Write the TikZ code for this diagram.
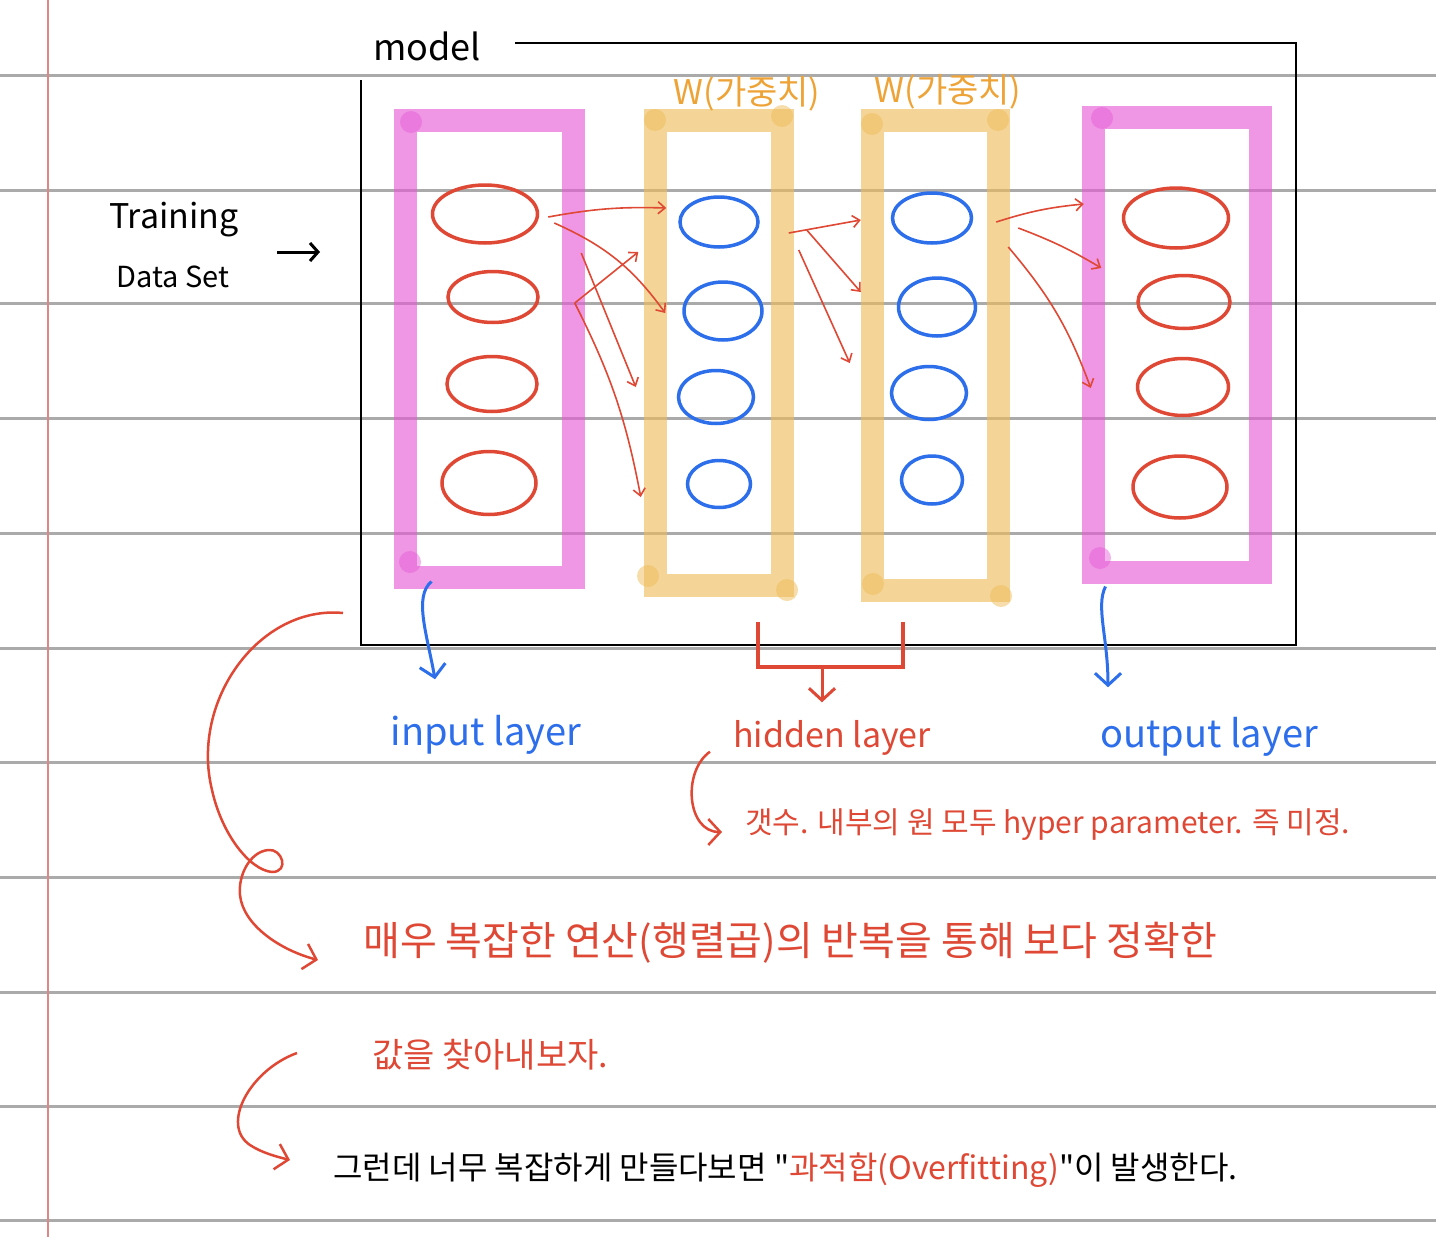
\documentclass[tikz,border=0pt]{standalone}
\usepackage{fontspec}
\usepackage{xcolor}
\usepackage{tikz}
\usetikzlibrary{arrows.meta, positioning, shapes.geometric}
\newfontfamily\kr{Noto Sans CJK KR}
\definecolor{pen}{RGB}{222,72,52}
\definecolor{ink}{RGB}{45,110,235}
\definecolor{amber}{RGB}{238,163,55}
\definecolor{rule}{RGB}{170,170,170}
\definecolor{margin}{RGB}{222,135,135}
\definecolor{lilac}{RGB}{230,88,213}
\definecolor{sand}{RGB}{238,188,88}

\begin{document}
\begin{tikzpicture}[
      x=1pt, y=-1pt,
      >={Straight Barb[length=7pt, width=12pt]},
      io/.style={rectangle, draw=lilac, draw opacity=0.62, line width=23pt,
                 inner sep=0pt},
      mid/.style={rectangle, draw=sand, draw opacity=0.62, line width=23pt,
                  inner sep=0pt},
      inunit/.style={ellipse, draw=pen, line width=3.5pt, inner sep=0pt},
      hidunit/.style={ellipse, draw=ink, line width=3.5pt, inner sep=0pt},
      wire/.style={->, draw=pen, line width=1.6pt},
      pointer/.style={-{Straight Barb[length=12pt, width=26pt]}, line width=3pt},
      hand/.style={font=\kr\fontsize{#1}{#1}\selectfont, inner sep=0pt},
    ]
    \useasboundingbox (0,0) rectangle (1436,1237);
    \fill[white] (0,0) rectangle (1436,1237);

    % notebook paper
    \draw[rule, line width=3pt]
      (0,75) -- (1436,75) (0,190) -- (1436,190) (0,303) -- (1436,303)
      (0,418) -- (1436,418) (0,533) -- (1436,533) (0,648) -- (1436,648)
      (0,762) -- (1436,762) (0,877) -- (1436,877) (0,992) -- (1436,992)
      (0,1106) -- (1436,1106) (0,1220) -- (1436,1220);
    \draw[margin, line width=2.5pt] (48,0) -- (48,1237);

    % model frame
    \node[hand=36] (mlab) at (427,46) {model};
    \draw[line width=2.5pt] (515,43) -- (1296,43) -- (1296,645) -- (361,645) -- (361,80);

    % layers
    \node[io, minimum width=168pt, minimum height=457pt]  (inl)  at (489,348.5) {};
    \node[mid, minimum width=127pt, minimum height=465pt] (hidA) at (718.5,352.5) {};
    \node[mid, minimum width=126pt, minimum height=470pt] (hidB) at (935,355) {};
    \node[io, minimum width=167pt, minimum height=455pt]  (outl) at (1176.5,344.5) {};
    \fill[lilac, opacity=0.45] (411,122) circle[radius=11] (410,562) circle[radius=11]
      (1102,118) circle[radius=11] (1100,558) circle[radius=11];
    \fill[sand, opacity=0.5] (655,120) circle[radius=11] (782,116) circle[radius=11]
      (648,576) circle[radius=11] (787,590) circle[radius=11]
      (872,124) circle[radius=11] (998,120) circle[radius=11]
      (873,584) circle[radius=11] (1001,596) circle[radius=11];

    \node[hand=34, text=amber] (wA) at (747,94) {W(가중치)};
    \node[hand=34, text=amber] (wB) at (948,92) {W(가중치)};

    % units
    \node[inunit, minimum width=105pt, minimum height=58pt] (i1) at (485,214) {};
    \node[inunit, minimum width=90pt, minimum height=51pt]  (i2) at (493,297) {};
    \node[inunit, minimum width=90pt, minimum height=55pt]  (i3) at (492,384) {};
    \node[inunit, minimum width=94pt, minimum height=63pt]  (i4) at (489,483) {};

    \node[hidunit, minimum width=78pt, minimum height=50pt] (h1) at (719,222) {};
    \node[hidunit, minimum width=78pt, minimum height=58pt] (h2) at (723,311) {};
    \node[hidunit, minimum width=75pt, minimum height=53pt] (h3) at (716,397) {};
    \node[hidunit, minimum width=63pt, minimum height=47pt] (h4) at (719,484) {};

    \node[hidunit, minimum width=79pt, minimum height=50pt] (g1) at (932,218) {};
    \node[hidunit, minimum width=77pt, minimum height=58pt] (g2) at (937,307) {};
    \node[hidunit, minimum width=75pt, minimum height=53pt] (g3) at (929,393) {};
    \node[hidunit, minimum width=61pt, minimum height=48pt] (g4) at (932,480) {};

    \node[inunit, minimum width=105pt, minimum height=60pt] (o1) at (1176,218) {};
    \node[inunit, minimum width=92pt, minimum height=53pt]  (o2) at (1184,302) {};
    \node[inunit, minimum width=91pt, minimum height=57pt]  (o3) at (1183,387) {};
    \node[inunit, minimum width=94pt, minimum height=62pt]  (o4) at (1180,487) {};

    % weights between layers
    \draw[wire] ([shift={(9,3)}]i1.east) to[bend left=6] ([shift={(-12,-14)}]h1.west);
    \draw[wire] ([shift={(15,9)}]i1.east) to[bend left=15] ([shift={(-17,2)}]h2.west);
    \draw[wire] ([shift={(35,6)}]i2.east) -- ([shift={(-40,30)}]h1.west);
    \draw[wire] ([shift={(42,39)}]i1.east) -- ([shift={(-41,-10)}]h3.west);
    \draw[wire] ([shift={(35,6)}]i2.east) to[bend left=8] ([shift={(-45,13)}]h4.west);
    \draw[wire] ([shift={(29,11)}]h1.east) -- ([shift={(-30,2)}]g1.west);
    \draw[wire] ([shift={(47,8)}]h1.east) -- ([shift={(-36,-15)}]g2.west);
    \draw[wire] ([shift={(39,28)}]h1.east) -- ([shift={(-40,-30)}]g3.west);
    \draw[wire] ([shift={(23,4)}]g1.east) to[bend left=6] ([shift={(-38,-14)}]o1.west);
    \draw[wire] ([shift={(45,10)}]g1.east) to[bend left=5] ([shift={(-35,-34)}]o2.west);
    \draw[wire] ([shift={(35,29)}]g1.east) to[bend left=10] ([shift={(-45,1)}]o3.west);

    % training data
    \node[hand=34] (train) at (174,220) {Training};
    \node[hand=29] (dset) at (173,277) {Data Set};
    \coordinate (feedA) at (277,252);
    \coordinate (feedB) at (320,252);
    \draw[->, line width=3pt, >={Straight Barb[length=8pt, width=18pt]}] (feedA) -- (feedB);

    % layer names
    \node[hand=38, text=ink] (inlab)  at (486,735)  {input layer};
    \node[hand=34, text=pen] (hidlab) at (832,738)  {hidden layer};
    \node[hand=38, text=ink] (outlab) at (1209,737) {output layer};

    \draw[ink, pointer] ([shift={(38,-7)}]inl.south west)
      .. controls +(-18,15) and +(-8,-45) .. ([shift={(-51,-36)}]inlab.north);
    \draw[ink, pointer] ([shift={(24,3)}]outl.south west)
      .. controls +(-10,20) and +(0,-50) .. ([shift={(-101,-30)}]outlab.north);

    \draw[pen, line width=3.5pt] (758,622) -- (758,667) -- (903,667) -- (903,622);
    \coordinate (brk) at (822,667);
    \draw[pen, pointer] (brk) -- ([shift={(-10,-18)}]hidlab.north);

    % notes
    \node[hand=30, text=pen, anchor=west] (note) at (745,825)
      {갯수. 내부의 원 모두 hyper parameter. 즉 미정.};
    \draw[pen, pointer, line width=2.5pt] ([shift={(-23,-4)}]hidlab.south west)
      .. controls +(-28,20) and +(-35,0) .. ([shift={(-23,7)}]note.west);

    \node[hand=40, text=pen, anchor=west] (calcA) at (363,943)
      {매우 복잡한 연산(행렬곱)의 반복을 통해 보다 정확한};
    \node[hand=34, text=pen, anchor=west] (calcB) at (372,1055) {값을 찾아내보자.};
    \coordinate (swirl) at (343,613);
    \draw[pen, pointer, line width=2.5pt] (swirl)
      .. controls (260,605) and (190,700) .. (212,790)
      .. controls (222,835) and (250,870) .. (272,872)
      .. controls (290,872) and (282,848) .. (268,850)
      .. controls (250,852) and (238,875) .. (240,895)
      .. controls (243,925) and (280,950) .. ([shift={(-45,17)}]calcA.west);

    \node[hand=32, anchor=west] (warn) at (333,1170)
      {그런데 너무 복잡하게 만들다보면 "\textcolor{pen}{과적합(Overfitting)}"이 발생한다.};
    \coordinate (hook) at (297,1053);
    \draw[pen, pointer, line width=2.5pt] (hook)
      .. controls (250,1070) and (220,1125) .. (250,1145)
      .. controls (262,1153) and (278,1157) .. ([shift={(-43,-10)}]warn.west);
  \end{tikzpicture}
\end{document}
